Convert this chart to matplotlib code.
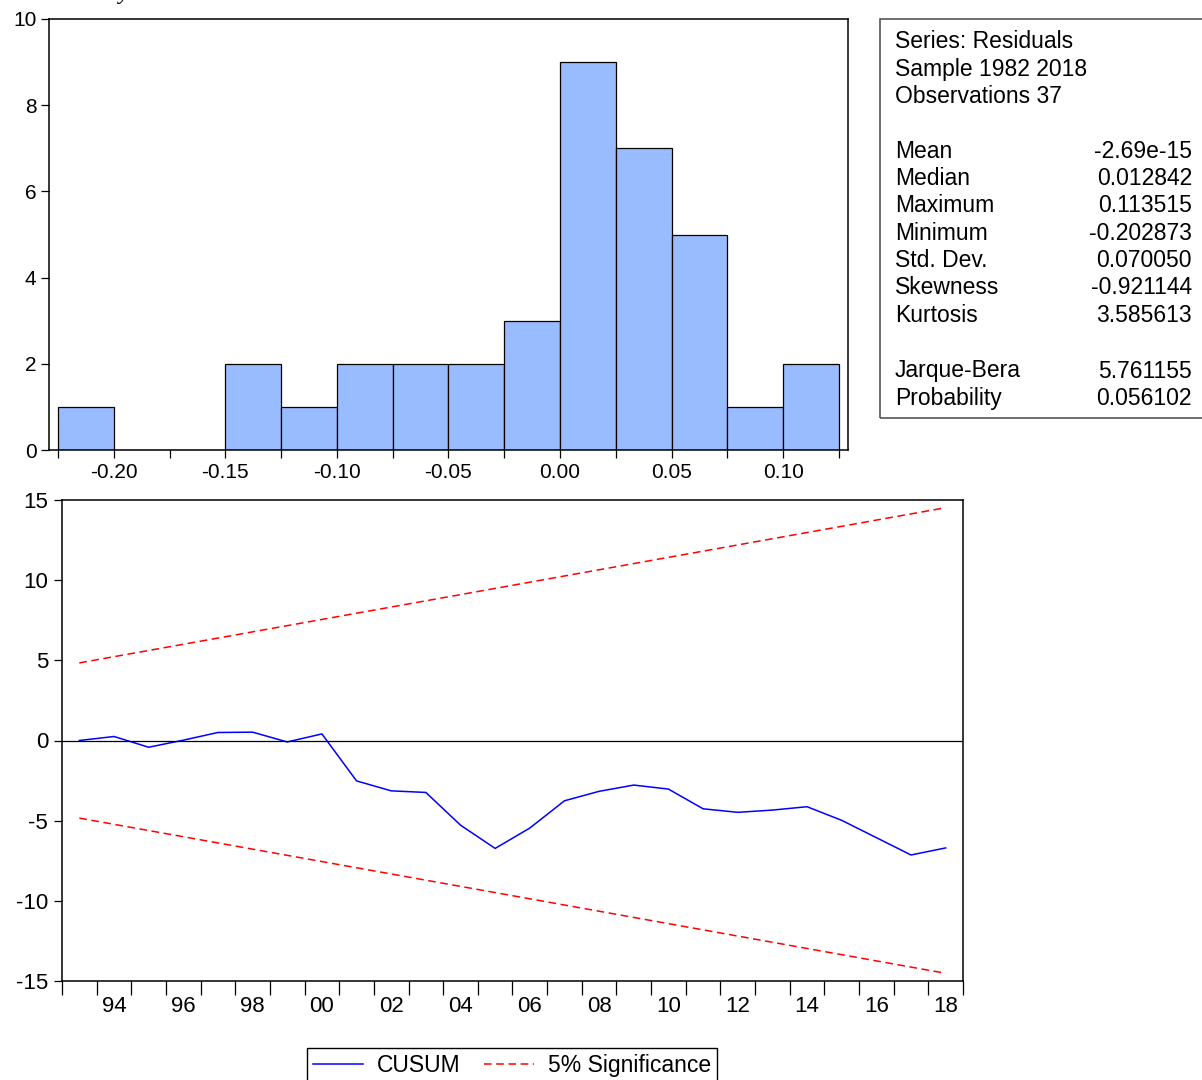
import numpy as np
import matplotlib.pyplot as plt
from matplotlib.patches import Rectangle
from matplotlib.ticker import MultipleLocator, FixedLocator

plt.rcParams['font.family'] = ['Liberation Sans', 'DejaVu Sans']
plt.rcParams['axes.unicode_minus'] = False

# residual histogram: left bin edges and counts
bin_left = [-0.225, -0.200, -0.175, -0.150, -0.125, -0.100, -0.075,
            -0.050, -0.025, 0.000, 0.025, 0.050, 0.075, 0.100]
bin_counts = [1, 0, 0, 2, 1, 2, 2, 2, 3, 9, 7, 5, 1, 2]
bin_width = 0.025

stats_head = ['Series: Residuals', 'Sample 1982 2018', 'Observations 37']
stats_names = ['Mean', 'Median', 'Maximum', 'Minimum', 'Std. Dev.',
               'Skewness', 'Kurtosis']
stats_values = ['-2.69e-15', '0.012842', '0.113515', '-0.202873',
                '0.070050', '-0.921144', '3.585613']
jb_names = ['Jarque-Bera', 'Probability']
jb_values = ['5.761155', '0.056102']

# recursive residual CUSUM
years = np.arange(1993, 2019)
cusum = [0.0, 0.25, -0.42, 0.02, 0.50, 0.52, -0.09, 0.41, -2.52, -3.14,
         -3.24, -5.28, -6.73, -5.46, -3.76, -3.17, -2.78, -3.03, -4.26,
         -4.48, -4.34, -4.13, -4.98, -6.06, -7.14, -6.70]
band_years = [1993, 2018]
band_upper = [4.84, 14.52]
band_lower = [-4.84, -14.52]
year_labels = ['94', '96', '98', '00', '02', '04', '06', '08', '10',
               '12', '14', '16', '18']

W, H = 1202, 1080
fig = plt.figure(figsize=(W / 100, H / 100), dpi=100)


def px_axes(l, t, r, b):
    return fig.add_axes([l / W, 1 - b / H, (r - l) / W, (b - t) / H])


# ---- histogram ----
ax1 = px_axes(49, 19, 848, 450)
ax1.bar(bin_left, bin_counts, width=bin_width, align='edge',
        color='#99BBFF', edgecolor='black', linewidth=0.9)
ax1.set_xlim(-0.229, 0.129)
ax1.set_ylim(0, 10)
ax1.xaxis.set_major_locator(FixedLocator([-0.20, -0.15, -0.10, -0.05, 0.0, 0.05, 0.10]))
ax1.xaxis.set_minor_locator(FixedLocator([-0.225, -0.175, -0.125, -0.075,
                                          -0.025, 0.025, 0.075, 0.125]))
ax1.set_xticklabels(['-0.20', '-0.15', '-0.10', '-0.05', '0.00', '0.05', '0.10'])
ax1.yaxis.set_major_locator(MultipleLocator(2))
ax1.tick_params(axis='both', which='both', direction='out', length=6,
                width=0.9, labelsize=15, pad=3)
for s in ax1.spines.values():
    s.set_linewidth(1.1)

# stats panel beside the histogram
fig.patches.append(Rectangle((880 / W, 1 - 418 / H), 340 / W, (418 - 19) / H,
                             transform=fig.transFigure, fill=False,
                             edgecolor='#555555', linewidth=1.2))
line_h = 27.4
y0 = 42
for i, t in enumerate(stats_head):
    fig.text(895 / W, 1 - (y0 + i * line_h) / H, t, fontsize=16.5, va='center')
y1 = 151
for i, (n, v) in enumerate(zip(stats_names, stats_values)):
    fig.text(895 / W, 1 - (y1 + i * line_h) / H, n, fontsize=16.5, va='center')
    fig.text(1192 / W, 1 - (y1 + i * line_h) / H, v, fontsize=16.5,
             va='center', ha='right')
y2 = 371
for i, (n, v) in enumerate(zip(jb_names, jb_values)):
    fig.text(895 / W, 1 - (y2 + i * line_h) / H, n, fontsize=16.5, va='center')
    fig.text(1192 / W, 1 - (y2 + i * line_h) / H, v, fontsize=16.5,
             va='center', ha='right')

# tail of a heading above the panel
fig.text(124 / W, 1 + 1 / H, 'y', fontsize=17, family='Liberation Serif',
         style='italic', va='baseline', ha='center')

# ---- CUSUM ----
ax2 = px_axes(62, 500, 963, 981)
ax2.plot(years, cusum, color='#0000FF', linewidth=1.1, label='CUSUM')
ax2.plot(band_years, band_upper, color='#FF0000', linestyle=(0, (5, 3)),
         linewidth=1.1, label='5% Significance')
ax2.plot(band_years, band_lower, color='#FF0000', linestyle=(0, (5, 3)),
         linewidth=1.1)
ax2.axhline(0, color='black', linewidth=0.9)
ax2.set_xlim(1992.5, 2018.5)
ax2.set_ylim(-15, 15)
ax2.yaxis.set_major_locator(MultipleLocator(5))
ax2.set_xticks(np.arange(1994, 2019, 2))
ax2.set_xticklabels(year_labels)
ax2.xaxis.set_minor_locator(FixedLocator(np.arange(1992.5, 2019, 1)))
ax2.tick_params(axis='x', which='major', length=0, pad=11, labelsize=16)
ax2.tick_params(axis='x', which='minor', length=10, width=0.9, direction='out')
ax2.tick_params(axis='y', length=6, width=0.9, direction='out',
                labelsize=16, pad=4)
for s in ax2.spines.values():
    s.set_linewidth(1.1)

fig.legend(loc='upper center', bbox_to_anchor=(512 / W, 1 - 1048 / H),
           ncol=2, fontsize=16.5, frameon=True, fancybox=False,
           edgecolor='black', framealpha=1, handlelength=2.2,
           columnspacing=1.0, borderpad=0.25, handletextpad=0.6,
           borderaxespad=0)

fig.savefig('out.png', dpi=100)
